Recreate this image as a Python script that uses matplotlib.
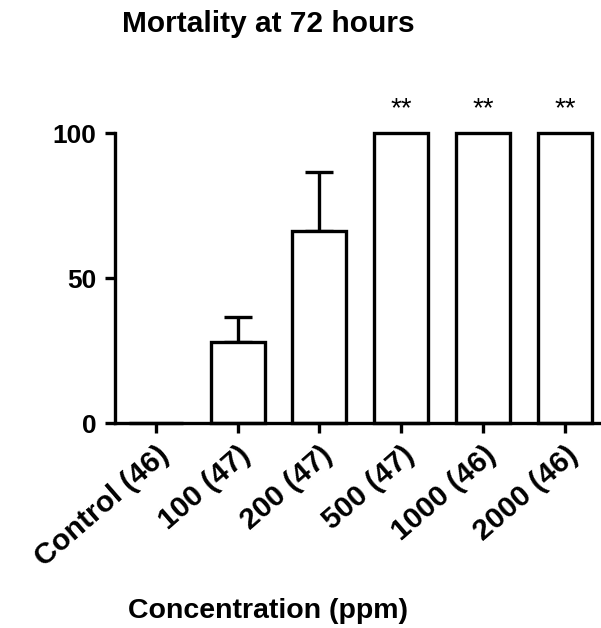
import numpy as np
import matplotlib.pyplot as plt

plt.rcParams['font.family'] = ['Liberation Sans', 'DejaVu Sans']

groups = ['Control (46)', '100 (47)', '200 (47)', '500 (47)', '1000 (46)', '2000 (46)']
mortality = [0, 27.9, 66.4, 100, 100, 100]
err_up = [0, 8.7, 20.2, 0, 0, 0]
stars = ['', '', '', '**', '**', '**']

fig = plt.figure(figsize=(6.01, 6.28), dpi=100)
ax = fig.add_axes([0.191, 0.326, 0.806, 0.462])

x = np.arange(len(groups))
lw = 2.4
bars = ax.bar(x, mortality, width=0.66, color='white', edgecolor='black',
              linewidth=lw, clip_on=False, zorder=2)
ax.errorbar(x[1:3], np.array(mortality[1:3]),
            yerr=[np.zeros(2), np.array(err_up[1:3])],
            fmt='none', ecolor='black', elinewidth=lw, capsize=10,
            capthick=lw, zorder=1, clip_on=False)

for xi, m, s in zip(x, mortality, stars):
    if s:
        ax.annotate(s, (xi, m), xytext=(0, 12), textcoords='offset points',
                    ha='center', va='baseline', fontsize=20)

ax.set_xlim(-0.5, 5.42)
ax.set_ylim(0, 100)
ax.set_yticks([0, 50, 100])
ax.set_xticks(x)
ax.set_xticklabels(groups, rotation=41, ha='right', rotation_mode='anchor',
                   fontsize=21.5, fontweight='bold')
for lab in ax.get_yticklabels():
    lab.set_fontsize(19)
    lab.set_fontweight('bold')

for s in ['top', 'right']:
    ax.spines[s].set_visible(False)
for s in ['left', 'bottom']:
    ax.spines[s].set_linewidth(lw)
ax.tick_params(axis='y', width=lw, length=7.5, pad=5.5)
ax.tick_params(axis='x', width=lw, length=7, pad=6)

fig.text(0.446, 0.949, 'Mortality at 72 hours', ha='center', va='baseline',
         fontsize=21.5, fontweight='bold')
fig.text(0.446, 0.016, 'Concentration (ppm)', ha='center', va='baseline',
         fontsize=20.5, fontweight='bold')

fig.savefig('out.png', dpi=100)
